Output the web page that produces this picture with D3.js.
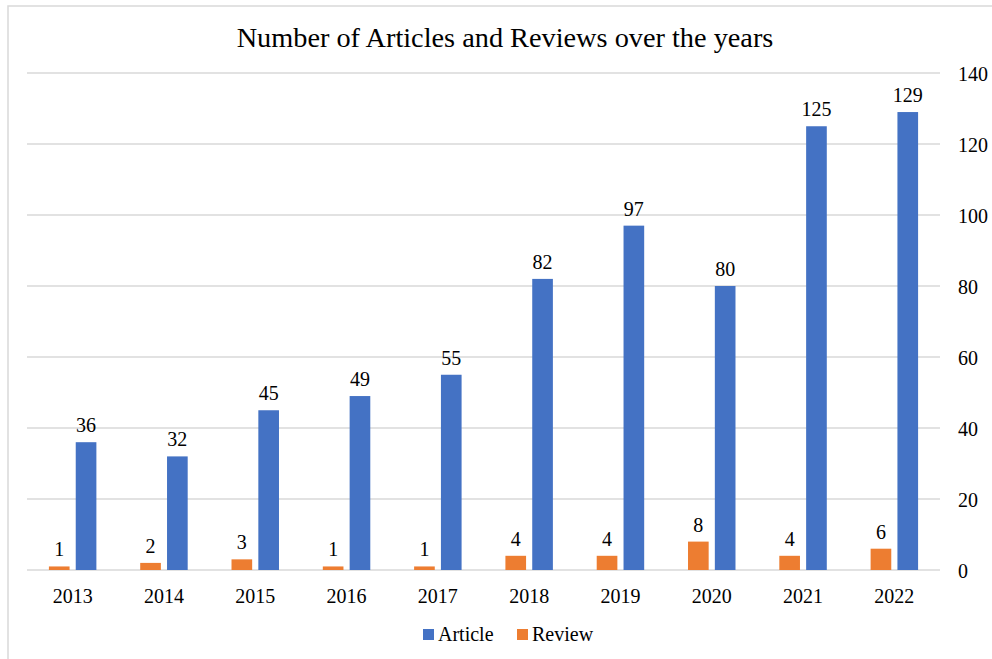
<!DOCTYPE html>
<html>
<head>
<meta charset="utf-8">
<script src="https://cdn.jsdelivr.net/npm/d3@7"></script>
<style>
  html, body { margin: 0; padding: 0; background: #fff; }
  svg text { font-family: "Liberation Serif"; }
</style>
</head>
<body>
<svg id="chart" width="992" height="659"></svg>
<script>
// Publication counts per year
const years = ["2013", "2014", "2015", "2016", "2017", "2018", "2019", "2020", "2021", "2022"];
const articles = [36, 32, 45, 49, 55, 82, 97, 80, 125, 129];
const reviews = [1, 2, 3, 1, 1, 4, 4, 8, 4, 6];
const yTicks = [0, 20, 40, 60, 80, 100, 120, 140];

const seriesNames = ["Review", "Article"];          // drawing order within a year
const legendNames = ["Article", "Review"];          // legend order
const colors = { Article: "#4472C4", Review: "#ED7D31" };
const values = { Article: articles, Review: reviews };

const FONT = "Liberation Serif";

const svg = d3.select("#chart");
const W = 992, H = 659;
const plot = { left: 27, right: 940, top: 73, bottom: 570 };

// outer frame of the chart area
svg.append("rect")
  .attr("x", 8).attr("y", 6)
  .attr("width", W + 20).attr("height", H + 20)
  .attr("fill", "#fff")
  .attr("stroke", "#d9d9d9")
  .attr("stroke-width", 1.5);

const x0 = d3.scaleBand().domain(years).range([plot.left, plot.right]).padding(0);
const bw = x0.bandwidth();
const x1 = d3.scaleBand().domain(seriesNames)
  .range([bw * 0.24, bw * 0.76]).paddingInner(0.23).paddingOuter(0);
const y = d3.scaleLinear().domain([0, 140]).range([plot.bottom, plot.top]);

// horizontal gridlines
svg.append("g").selectAll("line")
  .data(yTicks)
  .join("line")
  .attr("x1", plot.left).attr("x2", plot.right)
  .attr("y1", d => y(d)).attr("y2", d => y(d))
  .attr("stroke", "#d9d9d9")
  .attr("stroke-width", 1.3);

// right-hand value axis
const yAxis = d3.axisRight(y).tickValues(yTicks).tickSize(0).tickPadding(0);
const yg = svg.append("g")
  .attr("transform", `translate(${plot.right + 18},0)`)
  .call(yAxis)
  .attr("font-family", FONT)
  .attr("font-size", 20);
yg.select(".domain").remove();
yg.selectAll("text")
  .style("font-family", FONT)
  .style("font-size", "20px")
  .attr("fill", "#000")
  .attr("text-anchor", "start")
  .attr("dy", "0.36em");

// category axis
const xAxis = d3.axisBottom(x0).tickSize(0).tickPadding(0);
const xg = svg.append("g")
  .attr("transform", `translate(0,${plot.bottom})`)
  .call(xAxis)
  .attr("font-family", FONT)
  .attr("font-size", 20);
xg.select(".domain").remove();
xg.selectAll("text")
  .style("font-family", FONT)
  .style("font-size", "20px")
  .attr("fill", "#000")
  .attr("dy", 0)
  .attr("y", 33);

// bars and value labels
const groups = svg.append("g").selectAll("g")
  .data(years)
  .join("g")
  .attr("transform", d => `translate(${x0(d)},0)`);

seriesNames.forEach(name => {
  groups.append("rect")
    .attr("x", x1(name))
    .attr("width", x1.bandwidth())
    .attr("y", (d, i) => y(values[name][i]))
    .attr("height", (d, i) => y(0) - y(values[name][i]))
    .attr("fill", colors[name]);

  groups.append("text")
    .attr("x", x1(name) + x1.bandwidth() / 2)
    .attr("y", (d, i) => y(values[name][i]) - 10)
    .attr("text-anchor", "middle")
    .style("font-family", FONT)
    .style("font-size", "20px")
    .attr("fill", "#000")
    .text((d, i) => values[name][i]);
});

// title
svg.append("text")
  .attr("x", 505).attr("y", 47)
  .attr("text-anchor", "middle")
  .style("font-family", FONT)
  .style("font-size", "28.3px")
  .attr("fill", "#000")
  .text("Number of Articles and Reviews over the years");

// legend
const legend = svg.append("g").attr("transform", "translate(423,641)");
const legendX = [0, 94];
legendNames.forEach((name, i) => {
  const g = legend.append("g").attr("transform", `translate(${legendX[i]},0)`);
  g.append("rect")
    .attr("x", 0).attr("y", -12)
    .attr("width", 11).attr("height", 11)
    .attr("fill", colors[name]);
  g.append("text")
    .attr("x", 15).attr("y", 0)
    .style("font-family", FONT)
    .style("font-size", "20px")
    .attr("fill", "#000")
    .text(name);
});
</script>
</body>
</html>
